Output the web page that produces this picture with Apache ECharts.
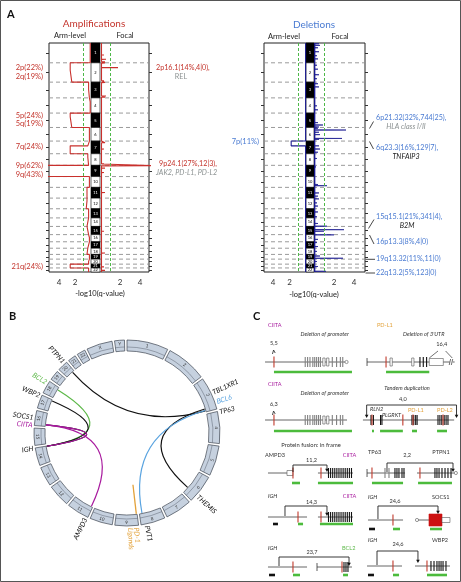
<!DOCTYPE html>
<html>
<head>
<meta charset="utf-8">
<script src="https://cdn.jsdelivr.net/npm/echarts@6.0.0/dist/echarts.min.js"></script>
<style>
html,body{margin:0;padding:0;background:#fff;}
#chart{width:461px;height:582px;}
</style>
</head>
<body>
<div id="chart"></div>
<script>
// ================= Panel A : GISTIC profiles =================
const chromosomes = ['1','2','3','4','5','6','7','8','9','10','11','12','13','14','15','16','17','18','19','20','21','22'];
const chrLengthMb = [249,243,198,191,181,171,159,146,141,136,135,134,115,107,103,90,81,78,59,63,48,51];
const centromereMb = [125,93,91,50,48,60,60,45,49,40,53,35,17,17,19,36,24,17,26,28,13,15];
// arm-level -log10(q) (p arm, q arm)
const ampArmP = [0.1,2.6,0.3,0.1,2.6,0.2,0.4,0.4,8.0,0.2,0.5,0.5,0.3,0.5,0.3,0.2,0.3,0.5,0.2,0.3,2.6,0.3];
const ampArmQ = [0.1,2.4,0.2,0.1,2.4,0.2,2.6,0.3,6.0,0.2,0.5,0.6,0.3,0.5,0.3,0.2,0.4,0.5,0.2,0.3,2.6,0.3];
const delArmP = [0.05,0.05,0.05,0.05,0.05,0.05,1.8,0.05,0.05,0.05,0.05,0.05,0.05,0.05,0.05,0.05,0.05,0.05,0.05,0.05,0.05,0.05];
const delArmQ = [0.05,0.05,0.05,0.05,0.05,0.05,0.05,0.05,0.05,0.05,0.05,0.05,0.05,0.05,0.05,0.05,0.05,0.05,0.05,0.05,0.05,0.05];
// focal peaks: [chromosome, position Mb, -log10 q]
const ampFocalPeaks = [
  [1,35,0.3],[1,150,0.4],[1,205,0.6],[1,235,0.5],
  [2,3,0.5],[2,61,1.8],[2,175,0.3],[2,225,0.4],
  [3,5,0.5],[3,175,0.6],[3,188,0.5],
  [4,60,0.2],[5,140,0.3],[6,30,0.3],
  [7,20,0.5],[7,100,0.4],[8,128,0.4],
  [9,5.5,6.0],[9,35,0.5],[9,90,0.4],[9,130,0.3],
  [10,90,0.2],[11,65,0.5],[11,118,0.3],[12,55,0.3],[13,60,0.2],[14,70,0.3],
  [15,60,0.4],[16,50,0.2],[17,45,0.3],[18,60,0.5],[19,35,0.3],[20,40,0.3],[21,35,0.4],[22,30,0.5]
];
const delFocalPeaks = [
  [1,10,0.5],[1,30,0.6],[1,60,0.4],[1,110,0.5],[1,160,0.3],[1,200,0.4],
  [2,30,0.3],[2,80,0.4],[2,150,0.5],[2,200,0.3],
  [3,20,0.4],[3,60,0.5],[4,100,0.3],[4,150,0.4],
  [5,120,0.4],[5,150,0.9],[5,175,0.5],
  [6,10,0.4],[6,32,3.2],[6,60,0.5],[6,90,0.6],[6,138,2.8],[6,150,0.5],
  [7,60,0.5],[7,100,0.6],[7,140,0.4],[8,60,0.3],[9,20,0.2],
  [10,100,0.4],[10,115,1.3],[11,70,0.5],[11,110,0.4],
  [12,10,0.5],[12,60,0.3],[12,100,0.4],[13,40,0.4],[13,100,0.3],
  [14,70,0.4],[14,104,1.3],[15,41,3.0],[15,60,1.0],
  [16,3,2.0],[16,60,0.4],[17,10,0.3],[17,60,0.4],[18,40,0.3],
  [19,20,0.6],[19,48,2.9],[20,30,0.3],[21,30,0.4],[22,42,1.2]
];
const qTickLabels = [2,4];

// ================= Panel B : circos =================
const ringChromosomes = chromosomes.concat(['X','Y']);
const ringLengthMb = chrLengthMb.concat([155,59]);
const geneNames = ['TBL1XR1','BCL6','TP63','THEMIS','PVT1','PD-L1','AMPD3','IGH','SOCS1','CIITA','WBP2','BCL2','PTPN1'];
const geneChr   = ['3','3','3','6','8','9','11','14','16','16','17','18','20'];
const geneMb    = [177,187,189.5,128,128,5.5,10,106,11.3,11,73,61,49];
const linkFrom  = ['TP63','BCL2','WBP2','SOCS1','CIITA','CIITA','TBL1XR1','BCL6'];
const linkTo    = ['PTPN1','IGH','IGH','IGH','IGH','AMPD3','THEMIS','PVT1'];
const linkKind  = ['k','g','k','k','m','m','k','b'];
const duplicationGenes = ['PD-L1'];
const ringLabels    = ['PTPN1','BCL2','WBP2','SOCS1','CIITA','IGH','AMPD3','PD-1','Ligands','PVT1','THEMIS','TBL1XR1','BCL6','TP63'];
const ringLabelGene = ['PTPN1','BCL2','WBP2','SOCS1','CIITA','IGH','AMPD3','PD-L1','PD-L1','PVT1','THEMIS','TBL1XR1','BCL6','TP63'];
const ringLabelKind = ['k','g','k','k','m','k','k','o','o','k','k','k','b','k'];

// ================= Panel C : rearrangement schematics (gene units 0-100) =================
const ciitaExons = [[45.5,'g'],[48,'g'],[50.5,'g'],[53.5,'g'],[55.5,'g'],[57.5,'g'],[59.5,'g'],[61.5,'g'],[64,'w'],[68,'w'],[74,'g'],[78.5,'g'],[82.5,'g'],[85,'g']];
const ciitaFusionExons = [[70,'k'],[72.2,'k'],[74.4,'k'],[76.6,'k'],[78.8,'k'],[81,'k'],[83.2,'k'],[85.4,'k'],[87.6,'k'],[89.8,'k'],[92,'k'],[94.2,'k']];
const fusionDiagrams = [
  {col:0, base:47, backbone:[[3.2,87.6]], ends:[], ovals:[89], red:[12.6], exons:ciitaExons, boxes:[],
   bars:[[12.6,94.7,'g']], barDy:10, bracket:null, curl:[12.6,-12], lines:[],
   texts:[['CIITA',6.3,-37,'m'],['Deletion of promoter',66,-28,'','i','center'],['5,5',12.6,-19,'','','center']]},
  {col:0, base:105, backbone:[[3.2,89.5]], ends:[], ovals:[], red:[12.6], exons:ciitaExons, boxes:[],
   bars:[[12.6,94.7,'g']], barDy:11, bracket:null, curl:[12.6,-9], lines:[],
   texts:[['CIITA',6.3,-36,'m'],['Deletion of promoter',66,-27,'','i','center'],['6,3',12.6,-16,'','','center']]},
  {col:1, base:47, backbone:[[5.3,92.3],[95.5,97.5]], ends:[5.3], ovals:[], red:[25.3],
   exons:[[29.5,'w'],[52.3,'w'],[61,'k'],[64.5,'k'],[68,'k']], boxes:[[70.8,85.6,3.5,'#fff']],
   bars:[[25.3,70.8,'g']], barDy:10, bracket:null, curl:null,
   lines:[[70.8,-4,80,-11],[88,-11,95,-4],[91.8,3,93.3,-3],[94,3,95.5,-3]],
   texts:[['PD-L1',15.8,-37,'o'],["Deletion of 3'UTR",65,-28,'','i','center'],['16,4',84,-18,'','','center']]},
  {col:1, base:105, backbone:[[1,97]], ends:[], ovals:[], red:[10.5,43,53.7,85.3],
   exons:[[9.5,'k'],[12,'k'],[19.5,'k'],[21,'k'],[52.6,'k'],[54.5,'k'],[56.5,'k'],[58,'k'],[80,'k'],[82,'k'],[84,'k'],[86.5,'k'],[88.5,'k'],[90.5,'k']],
   boxes:[], bars:[[10.5,12.6,'g'],[19,43,'g'],[52.6,57.9,'g'],[79,89.5,'g']], barDy:11,
   bracket:[99.5,4.9,-15,-2,true], curl:null, lines:[],
   texts:[['Tandem duplication',47.4,-32,'','i','center'],['4,0',43,-21,'','','center'],['RLN2',8.4,-11,'','i'],['PLGRKT',21,-5,'','i'],['PD-L1',48.4,-10,'o'],['PD-L2',79,-10,'o']]},
  {col:0, base:158, backbone:[[6.3,32.6],[58.9,95.8]], ends:[], ovals:[], red:[32.6,62.1], exons:ciitaFusionExons,
   boxes:[[26.3,32.6,2.5,'#fff']], bars:[[31.6,40,'g'],[58.9,95.8,'g']], barDy:10,
   bracket:[32.6,68.4,-8,-1,false], curl:null, lines:[],
   texts:[['AMPD3',3.2,-18],['11,2',52,-13,'','','center'],['CIITA',85,-18,'m']]},
  {col:1, base:158, backbone:[[5.3,45.3],[57.9,97.5]], ends:[5.3], ovals:[98.8], red:[10.5,61],
   exons:[[24.2,'g'],[28.4,'g'],[34.7,'k'],[36.8,'k'],[38.9,'k'],[42.1,'k'],[44.2,'k'],[76.8,'k'],[78.9,'k'],[81.1,'k'],[84.2,'k'],[87.4,'k'],[90.5,'k'],[93.7,'k']],
   boxes:[], bars:[[10.5,43.2,'g'],[59,94.7,'g']], barDy:10,
   bracket:[26.3,95.8,-10,-1,false], curl:null, lines:[],
   texts:[['TP63',6.3,-21],['2,2',47.4,-18,'','','center'],['PTPN1',74,-21]]},
  {col:0, base:202, backbone:[[6.3,47.4],[58.9,95.8]], ends:[], ovals:[], red:[37.9,62.1], exons:ciitaFusionExons,
   boxes:[], bars:[[11.6,16.8,'k'],[37.9,43.2,'g'],[61,95.8,'g']], barDy:7,
   bracket:[24.2,68.4,-11,-1,false], curl:null, lines:[],
   texts:[['IGH',6.3,-21,'','i'],['14,3',52,-15,'','','center'],['CIITA',85,-21,'m']]},
  {col:1, base:205, backbone:[[6.3,43.2],[57.9,70.5],[84.2,92.6]], ends:[], ovals:[57.9], red:[32.6], exons:[],
   boxes:[[70.5,84.2,6,'#cc1111'],[84.2,92.6,2.5,'#fff']], bars:[[7.4,13.7,'k'],[32.6,40,'g'],[71.6,84.2,'g']], barDy:9,
   bracket:[16.8,80,-14,-6,false], curl:null, lines:[],
   texts:[['IGH',6.3,-23,'','i'],['24,6',34.7,-19,'','','center'],['SOCS1',73.7,-23]]},
  {col:0, base:252, backbone:[[6.3,47.4],[57.9,94.7]], ends:[57.9], ovals:[], red:[32.6,84.2],
   exons:[[86.3,'k'],[88.4,'k'],[90.5,'k']], boxes:[], bars:[[7.4,13.7,'k'],[32.6,40,'g'],[85.3,90.5,'g']], barDy:8,
   bracket:[17.9,91.6,-10,-1,false], curl:null, lines:[],
   texts:[['IGH',6.3,-19,'','i'],['23,7',52.6,-15,'','','center'],['BCL2',84.2,-19,'g']]},
  {col:1, base:251, backbone:[[5.3,42.1],[55.8,92.6]], ends:[], ovals:[], red:[32.6,68.4],
   exons:[[72.6,'k'],[75.8,'k'],[78.9,'k'],[81.1,'k'],[83.2,'k'],[85.3,'k'],[88.4,'k']], boxes:[],
   bars:[[6.3,12.6,'k'],[32.6,39,'g'],[68.4,89.5,'g']], barDy:9,
   bracket:[15.8,58.9,-15,-3,false], curl:null, lines:[],
   texts:[['IGH',6.3,-26,'','i'],['24,6',37.9,-22,'','','center'],['WBP2',73.7,-26]]}
];

// ================= styling =================
const FONT = 'Lato, "Noto Sans", "DejaVu Sans", sans-serif';
const AMP_RED = '#c9302c', AMP_TXT = '#c4352d';
const DEL_NAVY = '#1b1b90', DEL_TXT = '#4a7bd2';
const GREEN_DASH = '#4db848', GREY_TXT = '#8b9191';
const KIND_COLOR = {k:'#111111', g:'#5cb848', m:'#a8199e', b:'#5aa4e0', o:'#e3a23a', '':'#333333'};

// ================= derived geometry from data =================
const TOTAL = chrLengthMb.reduce((s, v) => s + v, 0);
const chrStart = [];
chrLengthMb.forEach((v, i) => chrStart.push(i === 0 ? 0 : chrStart[i - 1] + chrLengthMb[i - 1]));
const chrCenter = chrStart.map((s, i) => s + chrLengthMb[i] / 2);

function armProfile(pVals, qVals) {
  const pts = [];
  for (let i = 0; i < chromosomes.length; i++) {
    const s = chrStart[i], c = s + centromereMb[i], e = s + chrLengthMb[i];
    pts.push([pVals[i], s], [pVals[i], c], [qVals[i], c], [qVals[i], e]);
  }
  return pts;
}
function focalProfile(peaks, base, halfW) {
  const pts = [];
  for (let i = 0; i < chromosomes.length; i++) {
    const s = chrStart[i], e = s + chrLengthMb[i];
    pts.push([base, s]);
    peaks.filter(p => p[0] === i + 1).sort((a, b) => a[1] - b[1]).forEach(p => {
      const y = s + p[1];
      pts.push([base, y - halfW], [p[2], y], [base, y + halfW]);
    });
    pts.push([base, e]);
  }
  return pts;
}
const ampArmPts = armProfile(ampArmP, ampArmQ);
const delArmPts = armProfile(delArmP, delArmQ);
const ampFocalPts = focalProfile(ampFocalPeaks, 0.15, 1.5);
const delFocalPts = focalProfile(delFocalPeaks, 0.1, 2.5);

// circos positions
const RING_GAP = 15;
const ringStart = [];
ringLengthMb.forEach((v, i) => ringStart.push(i === 0 ? 0 : ringStart[i - 1] + ringLengthMb[i - 1] + RING_GAP));
const CIRC = ringStart[ringStart.length - 1] + ringLengthMb[ringLengthMb.length - 1] + RING_GAP;
function genePos(name) {
  const k = geneNames.indexOf(name);
  return ringStart[ringChromosomes.indexOf(geneChr[k])] + geneMb[k];
}
const RING_IN = 0.882, LINK_R = 0.875, LABEL_R = 1.02;
const ringLabelNudgeDeg = [0,0,0,3.5,-1,0,0,1,4.5,-1.5,0,-8,-3,3];

// ================= render helpers =================
function renderBoundary(params, api) {
  const y = api.value(1);
  const a = api.coord([0, y]), b = api.coord([1, y]);
  return {type:'line', shape:{x1:a[0], y1:a[1], x2:b[0], y2:b[1]}, style:{stroke:'#8f8f8f', lineWidth:0.9, lineDash:[4,3]}};
}
function renderIdeo(params, api) {
  const i = api.value(3);
  const a = api.coord([0, api.value(1)]), b = api.coord([1, api.value(2)]);
  const dark = i % 2 === 0;
  return {type:'group', children:[
    {type:'rect', shape:{x:a[0], y:a[1], width:b[0]-a[0], height:b[1]-a[1]}, style:{fill:dark?'#000':'#fff', stroke:'#000', lineWidth:0.6}},
    {type:'text', x:(a[0]+b[0])/2, y:(a[1]+b[1])/2, style:{text:chromosomes[i], fill:dark?'#fff':'#000', fontSize:4, fontFamily:FONT, align:'center', verticalAlign:'middle'}}
  ]};
}
function renderDelFocal(params, api) {
  const pts = [api.coord([0, 0])].concat(delFocalPts.map(p => api.coord(p))).concat([api.coord([0, TOTAL])]);
  return {type:'polygon', shape:{points:pts}, style:{fill:DEL_NAVY, stroke:DEL_NAVY, lineWidth:0.7}};
}
function angleOf(p, cs) { return Math.atan2(p[1] - cs.cy, p[0] - cs.cx); }
function renderRing(params, api) {
  const cs = params.coordSys;
  const s = api.value(1), e = api.value(2), i = api.value(3);
  const p0 = api.coord([1, s]), p1 = api.coord([1, e]);
  const R = Math.hypot(p0[0] - cs.cx, p0[1] - cs.cy);
  let a0 = angleOf(p0, cs), a1 = angleOf(p1, cs);
  while (a1 < a0) a1 += 2 * Math.PI;
  const am = (a0 + a1) / 2;
  let rot = -(am + Math.PI / 2);
  if (Math.cos(am + Math.PI / 2) < 0) rot += Math.PI;
  const rl = R * 0.962;
  return {type:'group', children:[
    {type:'sector', shape:{cx:cs.cx, cy:cs.cy, r0:R*RING_IN, r:R, startAngle:a0, endAngle:a1, clockwise:true}, style:{fill:'#c6d1df', stroke:'#3f4652', lineWidth:0.7}},
    {type:'arc', shape:{cx:cs.cx, cy:cs.cy, r:R*0.925, startAngle:a0, endAngle:a1, clockwise:true}, style:{stroke:'#5a6270', lineWidth:0.5, fill:null}},
    {type:'text', x:cs.cx + rl*Math.cos(am), y:cs.cy + rl*Math.sin(am), rotation:rot, style:{text:ringChromosomes[i], fill:'#333', fontSize:4.5, fontFamily:FONT, align:'center', verticalAlign:'middle'}}
  ]};
}
function renderLink(params, api) {
  const cs = params.coordSys;
  const a = api.coord([api.value(0), api.value(1)]), b = api.coord([api.value(2), api.value(3)]);
  return {type:'bezierCurve', shape:{x1:a[0], y1:a[1], x2:b[0], y2:b[1], cpx1:cs.cx, cpy1:cs.cy},
    style:{stroke:KIND_COLOR[linkKind[params.dataIndex]], lineWidth:1.2, fill:null}};
}
function renderDup(params, api) {
  const a = api.coord([api.value(0), api.value(1)]), b = api.coord([api.value(2), api.value(1)]);
  return {type:'line', shape:{x1:a[0], y1:a[1], x2:b[0], y2:b[1]}, style:{stroke:KIND_COLOR.o, lineWidth:1.3}};
}
function renderGeneLabel(params, api) {
  const cs = params.coordSys;
  const p = api.coord([api.value(0), api.value(1)]);
  const a = angleOf(p, cs);
  const right = Math.cos(a) >= 0;
  const i = params.dataIndex;
  return {type:'text', x:p[0], y:p[1], rotation: right ? -a : -(a + Math.PI),
    style:{text:ringLabels[i], fill:KIND_COLOR[ringLabelKind[i]], fontSize:7, fontStyle:'italic', fontFamily:FONT,
      align: right ? 'left' : 'right', verticalAlign:'middle'}};
}
function makeDiagramRenderer(list) {
  return function (params, api) {
    const d = list[params.dataIndex];
    const P = (u, dy) => api.coord([u, d.base + dy]);
    const ch = [];
    const seg = (u0, dy0, u1, dy1, color, w) => { const a = P(u0, dy0), b = P(u1, dy1); ch.push({type:'line', shape:{x1:a[0], y1:a[1], x2:b[0], y2:b[1]}, style:{stroke:color, lineWidth:w}}); };
    const box = (u0, u1, dy0, dy1, fill, stroke) => { const a = P(u0, dy0), b = P(u1, dy1); ch.push({type:'rect', shape:{x:a[0], y:a[1], width:b[0]-a[0], height:b[1]-a[1]}, style:{fill:fill, stroke:stroke, lineWidth:0.6}}); };
    const head = (u, dy) => { const p = P(u, dy); ch.push({type:'polygon', shape:{points:[[p[0]-1.8, p[1]-3.2], [p[0]+1.8, p[1]-3.2], [p[0], p[1]]]}, style:{fill:'#111'}}); };
    d.backbone.forEach(b => seg(b[0], 0, b[1], 0, '#555', 0.9));
    d.ends.forEach(u => seg(u, -4, u, 4, '#333', 0.8));
    d.exons.forEach(e => { if (e[1] === 'w') box(e[0], e[0] + 2.4, -4, 4, '#fff', '#555'); else seg(e[0], -5, e[0], 5, e[1] === 'k' ? '#111' : '#808080', 1.1); });
    d.boxes.forEach(b => box(b[0], b[1], -b[2], b[2], b[3], b[3] === '#fff' ? '#555' : b[3]));
    d.ovals.forEach(u => { const p = P(u, 0); ch.push({type:'circle', shape:{cx:p[0], cy:p[1], r:1.6}, style:{fill:'#fff', stroke:'#555', lineWidth:0.6}}); });
    d.red.forEach(u => seg(u, -5.5, u, 5.5, '#c0392b', 1.1));
    d.bars.forEach(b => seg(b[0], d.barDy, b[1], d.barDy, b[2] === 'k' ? '#111' : '#4cbb3c', 2.6));
    d.lines.forEach(l => seg(l[0], l[1], l[2], l[3], '#333', 0.7));
    if (d.curl) { const u = d.curl[0], t = d.curl[1]; const pts = [P(u-1.6, t+4), P(u-0.4, t), P(u+1.3, t+3)]; ch.push({type:'polyline', shape:{points:pts}, style:{stroke:'#222', lineWidth:0.8, fill:null}}); }
    if (d.bracket) {
      const [u0, u1, top, tip, both] = d.bracket;
      seg(u0, both ? tip - 3 : -1, u0, top, '#222', 0.9);
      seg(u0, top, u1, top, '#222', 0.9);
      seg(u1, top, u1, tip - 3, '#222', 0.9);
      head(u1, tip);
      if (both) head(u0, tip);
    }
    d.texts.forEach(t => {
      const p = P(t[1], t[2]);
      ch.push({type:'text', x:p[0], y:p[1], style:{text:t[0], fill:KIND_COLOR[t[3] || ''], fontSize:5.6, fontFamily:FONT,
        fontStyle: t[4] === 'i' ? 'italic' : 'normal', align:t[5] || 'left', verticalAlign:'middle'}});
    });
    return {type:'group', children:ch};
  };
}
const colLeft = fusionDiagrams.filter(d => d.col === 0);
const colRight = fusionDiagrams.filter(d => d.col === 1);

// ================= axes =================
const AY = 43, AH = 229;
const gridBase = {containLabel:false, outerBoundsMode:'none'};
const grids = [
  {left:49, top:AY, width:100, height:AH, show:true, borderColor:'#222', borderWidth:1},
  {left:49, top:AY, width:42, height:AH},
  {left:91, top:AY, width:9, height:AH},
  {left:100, top:AY, width:49, height:AH},
  {left:264, top:AY, width:101, height:AH, show:true, borderColor:'#222', borderWidth:1},
  {left:264, top:AY, width:42, height:AH},
  {left:306, top:AY, width:8, height:AH},
  {left:314, top:AY, width:51, height:AH},
  {left:262, top:315, width:95, height:267},
  {left:362, top:315, width:95, height:267}
].map(g => Object.assign({}, gridBase, g));

function hiddenX(gi, min, max) { return {gridIndex:gi, type:'value', min:min, max:max, show:false}; }
function qAxis(gi, max, inverse) {
  return {gridIndex:gi, type:'value', min:0, max:max, interval:2, inverse:inverse,
    axisLine:{show:false}, axisTick:{show:false}, splitLine:{show:false},
    axisLabel:{customValues:qTickLabels, formatter: v => (qTickLabels.indexOf(v) >= 0 ? String(v) : ''), fontSize:8, color:'#333', margin:6, fontFamily:FONT}};
}
function hiddenY(gi) { return {gridIndex:gi, type:'value', min:0, max:TOTAL, inverse:true, show:false}; }
function tickY(gi, pos) {
  return {gridIndex:gi, type:'value', min:0, max:TOTAL, inverse:true, position:pos,
    axisLine:{show:false}, splitLine:{show:false}, axisLabel:{show:false},
    axisTick:{show:true, customValues:chrCenter, length:3, lineStyle:{color:'#333', width:1}}};
}
const xAxes = [
  hiddenX(0, 0, 1), qAxis(1, 5.25, true), hiddenX(2, 0, 1), qAxis(3, 4.9, false),
  hiddenX(4, 0, 1), qAxis(5, 5.1, true), hiddenX(6, 0, 1), qAxis(7, 5.1, false),
  hiddenX(8, 0, 100), hiddenX(9, 0, 100)
];
const yAxes = [
  tickY(0, 'left'), tickY(0, 'right'), hiddenY(1), hiddenY(2), hiddenY(3),
  tickY(4, 'left'), tickY(4, 'right'), hiddenY(5), hiddenY(6), hiddenY(7),
  {gridIndex:8, type:'value', min:0, max:267, inverse:true, show:false},
  {gridIndex:9, type:'value', min:0, max:267, inverse:true, show:false}
];

// ================= series =================
const greenMark = {silent:true, symbol:'none', label:{show:false}, lineStyle:{color:GREEN_DASH, type:[3,2], width:1}, data:[{xAxis:1}]};
const boundaryData = chrStart.slice(1).map(b => [0.5, b]);
const ideoData = chromosomes.map((c, i) => [0.5, chrStart[i], chrStart[i] + chrLengthMb[i], i]);
const series = [
  {type:'custom', xAxisIndex:0, yAxisIndex:0, silent:true, z:1, data:boundaryData, renderItem:renderBoundary},
  {type:'custom', xAxisIndex:2, yAxisIndex:3, silent:true, z:3, data:ideoData, renderItem:renderIdeo},
  {type:'line', xAxisIndex:1, yAxisIndex:2, data:ampArmPts, showSymbol:false, silent:true, z:4, clip:true,
   lineStyle:{color:AMP_RED, width:1.1}, markLine:greenMark},
  {type:'line', xAxisIndex:3, yAxisIndex:4, data:ampFocalPts, showSymbol:false, silent:true, z:4, clip:true,
   lineStyle:{color:AMP_RED, width:1.1}, markLine:greenMark},
  {type:'custom', xAxisIndex:4, yAxisIndex:5, silent:true, z:1, data:boundaryData, renderItem:renderBoundary},
  {type:'custom', xAxisIndex:6, yAxisIndex:8, silent:true, z:3, data:ideoData, renderItem:renderIdeo},
  {type:'line', xAxisIndex:5, yAxisIndex:7, data:delArmPts, showSymbol:false, silent:true, z:4, clip:true,
   lineStyle:{color:DEL_NAVY, width:1.1}, markLine:greenMark},
  {type:'custom', xAxisIndex:7, yAxisIndex:9, silent:true, z:4, clip:true, data:[[0, 0]], renderItem:renderDelFocal},
  {type:'line', xAxisIndex:7, yAxisIndex:9, data:[[0,0]], showSymbol:false, silent:true, lineStyle:{width:0}, markLine:greenMark},
  // circos
  {type:'custom', coordinateSystem:'polar', silent:true, z:3,
   data:ringChromosomes.map((c, i) => [1, ringStart[i], ringStart[i] + ringLengthMb[i], i]), renderItem:renderRing},
  {type:'custom', coordinateSystem:'polar', silent:true, z:4,
   data:linkFrom.map((g, i) => [LINK_R, genePos(g), LINK_R, genePos(linkTo[i])]), renderItem:renderLink},
  {type:'custom', coordinateSystem:'polar', silent:true, z:4,
   data:duplicationGenes.map(g => [LINK_R, genePos(g), 0.56]), renderItem:renderDup},
  {type:'custom', coordinateSystem:'polar', silent:true, z:5,
   data:ringLabels.map((t, i) => [LABEL_R, genePos(ringLabelGene[i]) + ringLabelNudgeDeg[i] * CIRC / 360]), renderItem:renderGeneLabel},
  // panel C
  {type:'custom', xAxisIndex:8, yAxisIndex:10, silent:true, clip:false, data:colLeft.map(d => [50, d.base]), renderItem:makeDiagramRenderer(colLeft)},
  {type:'custom', xAxisIndex:9, yAxisIndex:11, silent:true, clip:false, data:colRight.map(d => [50, d.base]), renderItem:makeDiagramRenderer(colRight)}
];

// ================= annotation text =================
function gText(text, x, y, size, color, opt) {
  opt = opt || {};
  return {type:'text', x:x, y:y, silent:true, z:50, style:{text:text, fill:color, fontSize:size, fontFamily:FONT,
    fontStyle:opt.it ? 'italic' : 'normal', fontWeight:opt.b ? 'bold' : 'normal', align:opt.a || 'left', verticalAlign:'middle'}};
}
function gLine(x1, y1, x2, y2, color) {
  return {type:'line', silent:true, z:50, shape:{x1:x1, y1:y1, x2:x2, y2:y2}, style:{stroke:color || '#333', lineWidth:0.9}};
}
const graphic = [
  {type:'rect', silent:true, z:60, shape:{x:0.5, y:0.5, width:460, height:581}, style:{fill:'none', stroke:'#555', lineWidth:1}},
  gText('A', 7, 14, 11, '#111', {b:1}),
  gText('B', 9, 316, 11, '#111', {b:1}),
  gText('C', 253, 316, 11, '#111', {b:1}),
  gText('Amplifications', 94, 24, 10, AMP_TXT, {a:'center'}),
  gText('Arm-level', 70, 36, 7.5, '#222', {a:'center'}),
  gText('Focal', 125, 36, 7.5, '#222', {a:'center'}),
  gText('-log10(q-value)', 100, 294, 7.5, '#222', {a:'center'}),
  gText('2p(22%)', 43, 68, 7.5, AMP_TXT, {a:'right'}),
  gText('2q(19%)', 43, 77, 7.5, AMP_TXT, {a:'right'}),
  gText('5p(24%)', 43, 116, 7.5, AMP_TXT, {a:'right'}),
  gText('5q(19%)', 43, 124, 7.5, AMP_TXT, {a:'right'}),
  gText('7q(24%)', 43, 147, 7.5, AMP_TXT, {a:'right'}),
  gText('9p(62%)', 43, 166, 7.5, AMP_TXT, {a:'right'}),
  gText('9q(43%)', 43, 175, 7.5, AMP_TXT, {a:'right'}),
  gText('21q(24%)', 43, 267, 7.5, AMP_TXT, {a:'right'}),
  gText('2p16.1(14%,4|0),', 156, 68, 7.2, AMP_TXT),
  gText('REL', 181, 77, 7.2, GREY_TXT, {a:'center'}),
  gText('9p24.1(27%,12|3),', 159, 164, 7.2, AMP_TXT),
  gText('JAK2, PD-L1, PD-L2', 156, 173, 7.2, GREY_TXT, {it:1}),
  gText('Deletions', 314, 25, 10, DEL_TXT, {a:'center'}),
  gText('Arm-level', 284, 37, 7.5, '#222', {a:'center'}),
  gText('Focal', 340, 37, 7.5, '#222', {a:'center'}),
  gText('-log10(q-value)', 314, 295, 7.5, '#222', {a:'center'}),
  gText('7p(11%)', 259, 142, 7.5, DEL_TXT, {a:'right'}),
  gText('6p21.32(32%,744|25),', 376, 118, 7.2, DEL_TXT),
  gText('HLA class I/II', 406, 127, 7.2, GREY_TXT, {a:'center', it:1}),
  gText('6q23.3(16%,129|7),', 376, 148, 7.2, DEL_TXT),
  gText('TNFAIP3', 406, 157, 7.2, '#222', {a:'center', it:1}),
  gText('15q15.1(21%,341|4),', 376, 217, 7.2, DEL_TXT),
  gText('B2M', 407, 226, 7.2, '#222', {a:'center', it:1}),
  gText('16p13.3(8%,4|0)', 376, 242, 7.2, DEL_TXT),
  gText('19q13.32(11%,11|0)', 376, 259, 7.2, DEL_TXT),
  gText('22q13.2(5%,123|0)', 376, 273, 7.2, DEL_TXT),
  gLine(369.5, 128.5, 373.5, 121.5), gLine(369.5, 141.5, 373.5, 149),
  gLine(368.5, 228.5, 374, 219.5), gLine(369.5, 235, 374, 244),
  gLine(365.5, 259.3, 375, 259.3), gLine(365.5, 273, 375, 273),
  gText('Protein fusion: in frame', 311, 445, 5.8, '#333', {a:'center'})
];

const chart = echarts.init(document.getElementById('chart'), null, {renderer:'canvas'});
chart.setOption({
  animation:false,
  backgroundColor:'#fff',
  grid:grids,
  xAxis:xAxes,
  yAxis:yAxes,
  polar:{center:[127, 433], radius:[0, 93]},
  angleAxis:{type:'value', min:0, max:CIRC, startAngle:90, clockwise:true, show:false},
  radiusAxis:{type:'value', min:0, max:1, show:false},
  series:series,
  graphic:graphic
});
</script>
</body>
</html>
